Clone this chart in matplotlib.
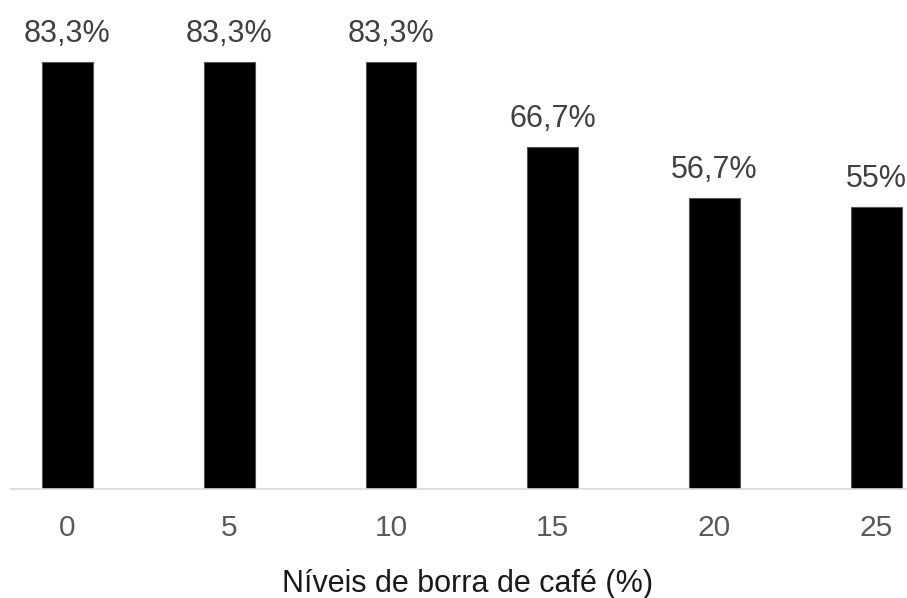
import matplotlib
matplotlib.use("Agg")
from matplotlib import pyplot as plt
import numpy as np

plt.rcParams['font.family'] = ['Liberation Sans', 'DejaVu Sans']

niveis = ['0', '5', '10', '15', '20', '25']  # níveis de borra de café (%)
valores = [83.3, 83.3, 83.3, 66.7, 56.7, 55.0]
rotulos = ['83,3%', '83,3%', '83,3%', '66,7%', '56,7%', '55%']

fig = plt.figure(figsize=(9.07, 5.98), dpi=100)
ax = fig.add_axes([11 / 907, 1 - 489 / 598, 1 - 11 / 907, 489 / 598])

x = np.arange(len(niveis))
barras = ax.bar(x, valores, width=0.315, color='black', edgecolor='#555555', linewidth=0.8)

# rótulos de dados em cima das barras
for b, r in zip(barras, rotulos):
    ax.annotate(r, (b.get_x() + b.get_width() / 2, b.get_height()),
                xytext=(0, 9.5), textcoords='offset points',
                ha='center', va='bottom', fontsize=22, color='#404040')

ax.set_xlim(-0.349, 5.19)
ax.set_ylim(0, 95.4)
ax.set_xticks(x)
ax.set_xticklabels(niveis)
ax.tick_params(axis='x', length=0, pad=18, labelsize=21.5, labelcolor='#595959')
ax.set_yticks([])
for s in ['left', 'right', 'top']:
    ax.spines[s].set_visible(False)
ax.spines['bottom'].set_color('#d9d9d9')
ax.spines['bottom'].set_linewidth(1.2)

ax.set_xlabel('Níveis de borra de café (%)', fontsize=22, color='#1a1a1a')
ax.xaxis.set_label_coords(0.509, -0.163)
ax.xaxis.label.set_va('top')

fig.savefig('out.png', dpi=100)
